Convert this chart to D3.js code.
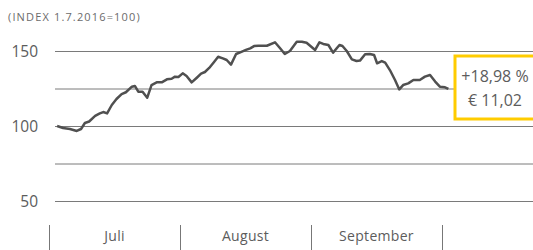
<!DOCTYPE html>
<html>
<head>
<meta charset="utf-8">
<script src="https://cdn.jsdelivr.net/npm/d3@7"></script>
<style>
  html, body { margin: 0; padding: 0; background: #fff; }
  svg { display: block; font-family: "Open Sans", "DejaVu Sans", sans-serif; }
</style>
</head>
<body>
<svg id="chart" width="533" height="250"></svg>
<script>
// index data, day = days since 1 July 2016
const days = [1.9, 3.3, 4.9, 6.5, 7.5, 8.4, 9.4, 10.8, 11.9, 12.7, 13.6, 14.7, 15.8, 17.0, 18.0,
  19.4, 20.1, 20.9, 21.9, 23.0, 24.0, 25.2, 26.4, 27.6, 28.7, 29.5, 30.3, 31.3, 32.2, 33.4,
  34.6, 35.6, 36.5, 37.5, 38.5, 39.6, 40.7, 41.6, 42.6, 43.8, 44.9, 46.1, 47.1, 48.0, 49.0,
  51.0, 52.9, 54.1, 55.2, 56.4, 58.0, 59.2, 60.3, 62.3, 63.3, 64.2, 65.4, 66.5, 68.0, 68.7,
  69.7, 70.9, 72.0, 72.8, 74.0, 75.1, 76.1, 76.8, 77.9, 78.7, 79.8, 81.0, 82.0, 82.9, 84.1,
  85.3, 86.8, 88.0, 89.2, 90.4, 91.5, 92.7, 93.5];
const values = [100, 98.7, 98, 96.7, 98, 102, 103, 106.7, 108.4, 109.3, 108.4, 114, 118, 121.3, 122.5,
  126.2, 126.7, 122.9, 122.9, 118.9, 127.3, 129.1, 129.1, 131.1, 131.5, 132.9, 132.7, 135.1, 133.3, 129.1,
  132.2, 134.9, 136, 138.7, 142.2, 146.2, 145.1, 144, 140.9, 148, 149.3, 150.7, 151.8, 153.3, 153.5,
  153.5, 155.8, 151.8, 148, 150, 156.2, 156.2, 155.5, 150.7, 155.8, 154.7, 154, 148.9, 154, 153.3,
  150, 144.4, 143.3, 143.6, 147.8, 148, 147.3, 141.8, 143.3, 142.2, 137.3, 130.7, 124.4, 127.3, 128.4,
  130.7, 130.7, 132.9, 134, 129.6, 126.2, 125.8, 124.7];

const yTicks = [150, 125, 100, 75, 50];
const yLabels = [150, 100, 50];
const months = ["Juli", "August", "September", ""];
const subtitle = "(INDEX 1.7.2016=100)";
const boxLines = ["+18,98 %", "€ 11,02"];

const svg = d3.select("#chart");

const x = d3.scaleLinear().domain([0, 92]).range([49, 442]);
const y = d3.scaleLinear().domain([50, 150]).range([201, 51]);
const xMonth = d3.scaleBand().domain(months).range([49, 573]);

svg.append("text")
  .attr("x", 8).attr("y", 21)
  .attr("fill", "#6b6b6b")
  .attr("font-size", 11)
  .attr("letter-spacing", 1.15)
  .text(subtitle);

// gridlines
svg.append("g")
  .selectAll("line")
  .data(yTicks)
  .join("line")
  .attr("x1", 55).attr("x2", 533)
  .attr("y1", d => y(d) + 0.5).attr("y2", d => y(d) + 0.5)
  .attr("stroke", "#7a7a7a")
  .attr("stroke-width", 1);

svg.append("g")
  .selectAll("text")
  .data(yLabels)
  .join("text")
  .attr("x", 38)
  .attr("y", d => y(d) + 6)
  .attr("text-anchor", "end")
  .attr("fill", "#5c5c5c")
  .attr("font-size", 15.5)
  .text(d => d);

// month axis
svg.append("g")
  .selectAll("line")
  .data(months)
  .join("line")
  .attr("x1", d => xMonth(d) + 0.5).attr("x2", d => xMonth(d) + 0.5)
  .attr("y1", 225).attr("y2", 250)
  .attr("stroke", "#777");

svg.append("g")
  .selectAll("text")
  .data(months)
  .join("text")
  .attr("x", d => xMonth(d) + xMonth.bandwidth() / 2)
  .attr("y", 241)
  .attr("text-anchor", "middle")
  .attr("fill", "#5c5c5c")
  .attr("font-size", 14)
  .attr("letter-spacing", 0.3)
  .text(d => d);

// index line
const line = d3.line()
  .x((d, i) => x(days[i]))
  .y(d => y(d));

svg.append("path")
  .datum(values)
  .attr("d", line)
  .attr("fill", "none")
  .attr("stroke", "#505050")
  .attr("stroke-width", 2.5)
  .attr("stroke-linejoin", "round");

// performance box
svg.append("rect")
  .attr("x", 455).attr("y", 56)
  .attr("width", 90).attr("height", 63)
  .attr("fill", "#fff")
  .attr("stroke", "#ffcc00")
  .attr("stroke-width", 3);

svg.append("g")
  .selectAll("text")
  .data(boxLines)
  .join("text")
  .attr("x", 495)
  .attr("y", (d, i) => 82 + i * 24)
  .attr("text-anchor", "middle")
  .attr("fill", "#5c5c5c")
  .attr("font-size", 16)
  .text(d => d);
</script>
</body>
</html>
